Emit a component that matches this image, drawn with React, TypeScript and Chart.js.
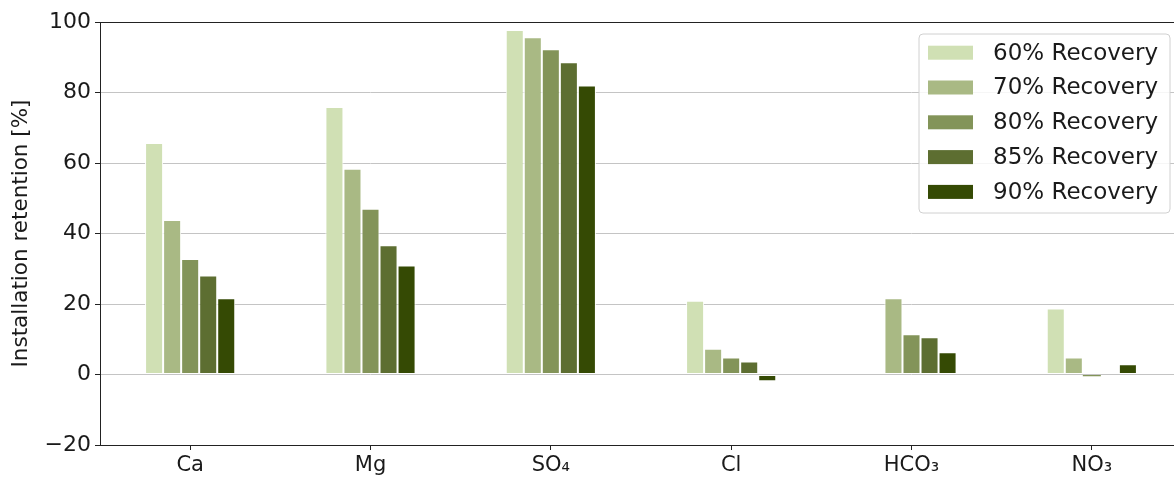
import React, { useEffect, useRef } from 'react';
import { Chart, registerables } from 'chart.js';
Chart.register(...registerables);

const categories = ['Ca', 'Mg', 'SO₄', 'Cl', 'HCO₃', 'NO₃'];
const seriesLabels = ['60% Recovery', '70% Recovery', '80% Recovery', '85% Recovery', '90% Recovery'];
const rec60 = [65.7, 75.9, 97.7, 20.9, null, 18.7];
const rec70 = [43.8, 58.4, 95.7, 7.3, 21.6, 4.8];
const rec80 = [32.8, 47.0, 92.3, 4.8, 11.4, -0.5];
const rec85 = [28.1, 36.7, 88.6, 3.7, 10.6, null];
const rec90 = [21.6, 30.9, 82.0, -1.9, 6.3, 2.9];
const seriesValues = [rec60, rec70, rec80, rec85, rec90];
const seriesColors = ['#d0e0b4', '#a9b984', '#839459', '#5d6e31', '#354a04'];
const yMin = -20;
const yMax = 100;
const yStep = 20;
const yTitle = 'Installation retention [%]';

const FONT = "'DejaVu Sans', sans-serif";

const framePlugin = {
  id: 'frame',
  afterDraw(chart: any) {
    const { ctx, chartArea } = chart;
    ctx.save();
    ctx.strokeStyle = '#222';
    ctx.lineWidth = 1;
    ctx.strokeRect(Math.round(chartArea.left) + 0.5, Math.round(chartArea.top) + 0.5,
      Math.round(chartArea.right - chartArea.left), Math.round(chartArea.bottom - chartArea.top));
    // legend
    const bx = 919, by = 34, bw = 251, bh = 179;
    ctx.fillStyle = 'rgba(255,255,255,0.85)';
    ctx.strokeStyle = '#d0d0d0';
    ctx.beginPath();
    const r = 4;
    ctx.moveTo(bx + r, by);
    ctx.lineTo(bx + bw - r, by);
    ctx.arcTo(bx + bw, by, bx + bw, by + r, r);
    ctx.lineTo(bx + bw, by + bh - r);
    ctx.arcTo(bx + bw, by + bh, bx + bw - r, by + bh, r);
    ctx.lineTo(bx + r, by + bh);
    ctx.arcTo(bx, by + bh, bx, by + bh - r, r);
    ctx.lineTo(bx, by + r);
    ctx.arcTo(bx, by, bx + r, by, r);
    ctx.closePath();
    ctx.fill();
    ctx.stroke();
    ctx.font = `23px ${FONT}`;
    ctx.textBaseline = 'middle';
    ctx.textAlign = 'left';
    chart.data.datasets.forEach((ds: any, i: number) => {
      const cy = 52.7 + i * 34.8;
      ctx.fillStyle = ds.backgroundColor;
      ctx.fillRect(928, cy - 7, 45, 14);
      ctx.fillStyle = '#1a1a1a';
      ctx.fillText(ds.label, 993, cy + 1);
    });
    ctx.restore();
  },
};

export default function App() {
  const ref = useRef<HTMLCanvasElement>(null);
  useEffect(() => {
    document.body.style.margin = '0';
    const chart = new Chart(ref.current!, {
      type: 'bar',
      data: {
        labels: categories,
        datasets: seriesLabels.map((label, i) => ({
          label,
          data: seriesValues[i],
          backgroundColor: seriesColors[i],
          borderColor: '#ffffff',
          borderWidth: (c: any) => {
            const v = c.raw;
            return typeof v === 'number' && Math.abs(v) < 1 ? 0 : 1;
          },
          borderSkipped: false,
          categoryPercentage: 0.5,
          barPercentage: 1.0,
        })),
      },
      options: {
        animation: false,
        responsive: false,
        maintainAspectRatio: false,
        layout: { padding: { top: 22, right: 8, left: 0, bottom: 0 } },
        plugins: { legend: { display: false }, tooltip: { enabled: false } },
        scales: {
          x: {
            grid: { display: true, offset: false, drawOnChartArea: false, tickLength: 5, tickColor: '#222' },
            border: { display: false },
            ticks: { color: '#1a1a1a', font: { family: FONT, size: 21 }, padding: 3 },
            afterFit(scale: any) { scale.height = 33; },
          },
          y: {
            min: yMin,
            max: yMax,
            grid: { color: '#c4c4c4', lineWidth: 1, tickLength: 5, tickColor: '#222' },
            border: { display: false },
            ticks: {
              stepSize: yStep, color: '#1a1a1a', font: { family: FONT, size: 22 }, padding: 4,
              callback: (v: any) => String(v).replace('-', '\u2212'),
            },
            title: { display: true, text: yTitle, color: '#1a1a1a', font: { family: FONT, size: 21.5 }, padding: { top: 9, bottom: 0 } },
            afterFit(scale: any) { scale.width = 100; },
          },
        },
      },
      plugins: [framePlugin],
    });
    return () => chart.destroy();
  }, []);
  return (
    <div style={{ position: 'absolute', left: 0, top: 0, width: 1174, height: 478, overflow: 'hidden', background: '#fff' }}>
      <canvas ref={ref} width={1190} height={478} style={{ width: 1190, height: 478, display: 'block' }} />
    </div>
  );
}
